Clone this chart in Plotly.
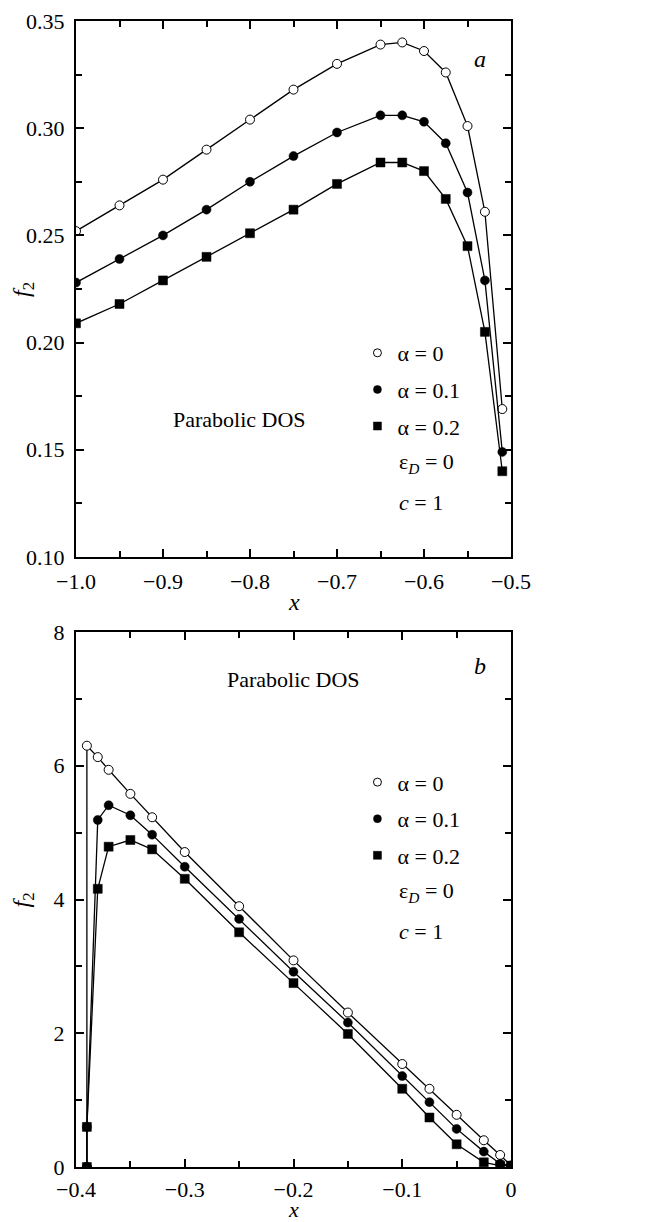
import plotly.graph_objects as go
from plotly.subplots import make_subplots

# ---- Panel a data ----
xa = [-1.0, -0.95, -0.9, -0.85, -0.8, -0.75, -0.7, -0.65, -0.625, -0.6, -0.575, -0.55, -0.53, -0.51]
fa_0 = [0.252, 0.264, 0.276, 0.290, 0.304, 0.318, 0.330, 0.339, 0.340, 0.336, 0.326, 0.301, 0.261, 0.169]
fa_1 = [0.228, 0.239, 0.250, 0.262, 0.275, 0.287, 0.298, 0.306, 0.306, 0.303, 0.293, 0.270, 0.229, 0.149]
fa_2 = [0.209, 0.218, 0.229, 0.240, 0.251, 0.262, 0.274, 0.284, 0.284, 0.280, 0.267, 0.245, 0.205, 0.140]

# ---- Panel b data ----
xb = [-0.39, -0.39, -0.38, -0.37, -0.35, -0.33, -0.30, -0.25, -0.20, -0.15, -0.10, -0.075, -0.05, -0.025, -0.01, 0.0]
fb_0 = [0.0, 6.30, 6.13, 5.94, 5.58, 5.23, 4.71, 3.90, 3.09, 2.31, 1.54, 1.17, 0.78, 0.40, 0.18, 0.02]
fb_1 = [0.0, 0.60, 5.19, 5.41, 5.26, 4.97, 4.49, 3.71, 2.92, 2.16, 1.36, 0.97, 0.57, 0.23, 0.05, 0.02]
fb_2 = [0.0, 0.60, 4.16, 4.79, 4.89, 4.75, 4.31, 3.51, 2.75, 1.99, 1.17, 0.74, 0.34, 0.07, 0.02, 0.02]

labels = ["α = 0", "α = 0.1", "α = 0.2"]
symbols = ["circle-open", "circle", "square"]

FONT = "Liberation Serif, Times New Roman, serif"

fig = make_subplots(rows=2, cols=1, vertical_spacing=0.05)

def marker(sym, size):
    if sym == "circle-open":
        return dict(symbol="circle", size=size, color="white", line=dict(color="black", width=1))
    return dict(symbol=sym, size=size, color="black", line=dict(color="black", width=0.5))

for row, xs, series in [(1, xa, [fa_0, fa_1, fa_2]), (2, xb, [fb_0, fb_1, fb_2])]:
    for i, ys in enumerate(series):
        fig.add_trace(go.Scatter(x=xs, y=ys, mode="lines+markers",
                                 line=dict(color="black", width=1.3),
                                 marker=marker(symbols[i], 9),
                                 showlegend=False), row=row, col=1)

# legend-only entries
for leg in ["legend", "legend2"]:
    for i, lab in enumerate(labels):
        fig.add_trace(go.Scatter(x=[None], y=[None], mode="markers", name=lab,
                                 marker=marker(symbols[i], 8),
                                 legend=leg, legendgroup=leg + str(i), showlegend=True))

axis_common = dict(showline=True, linecolor="black", linewidth=2, mirror="allticks",
                   ticks="inside", ticklen=8, tickwidth=1.5, tickcolor="black",
                   showgrid=False, zeroline=False,
                   tickfont=dict(family=FONT, size=22, color="black"),
                   minor=dict(ticks="inside", ticklen=6, tickwidth=1.5, tickcolor="black", showgrid=False))

fig.update_xaxes(**axis_common)
fig.update_yaxes(**axis_common)

fig.update_xaxes(row=1, col=1, range=[-1.0, -0.5], dtick=0.1, tick0=-1.0, tickformat=".1f",
                 minor=dict(dtick=0.05, tick0=-1.0), ticklabelstandoff=4,
                 domain=[0, 1])
fig.update_yaxes(row=1, col=1, range=[0.10, 0.35], dtick=0.05, tick0=0.10, tickformat=".2f",
                 minor=dict(dtick=0.025, tick0=0.10), ticklabelstandoff=5,
                 domain=[0.5323, 1.0])
fig.update_xaxes(row=2, col=1, range=[-0.4, 0.0], tickvals=[-0.4, -0.3, -0.2, -0.1, 0.0],
                 ticktext=["−0.4", "−0.3", "−0.2", "−0.1", "0"], ticklabelstandoff=2,
                 minor=dict(dtick=0.05, tick0=-0.4),
                 domain=[0, 1])
fig.update_yaxes(row=2, col=1, range=[0, 8], dtick=2, tick0=0,
                 minor=dict(dtick=1, tick0=0), ticklabelstandoff=5,
                 domain=[0.0, 0.4668])

leg_common = dict(font=dict(family=FONT, size=22, color="black"), bgcolor="rgba(0,0,0,0)",
                  traceorder="grouped", tracegroupgap=5, xanchor="left", yanchor="top",
                  itemclick=False)
fig.update_layout(
    legend=dict(x=0.647, y=0.7286, **leg_common),
    legend2=dict(x=0.647, y=0.354, **leg_common),
)

def ann(text, xr, yr, x, y, xanchor="center", size=22, angle=0):
    fig.add_annotation(text=text, xref=xr, yref=yr, x=x, y=y, showarrow=False,
                       xanchor=xanchor, yanchor="middle", textangle=angle,
                       font=dict(family=FONT, size=size, color="black"))

# axis titles
ann("<i>x</i>", "x domain", "paper", 0.5, 0.493, size=24)
ann("<i>x</i>", "x2 domain", "paper", 0.5, -0.0367, size=22)
ann("<i>f</i><sub>2</sub>", "paper", "y domain", -0.122, 0.5, size=24, angle=-90)
ann("<i>f</i><sub>2</sub>", "paper", "y2 domain", -0.122, 0.5, size=24, angle=-90)

ann("Parabolic DOS", "x domain", "y domain", 0.377, 0.256)
ann("<i>a</i>", "x domain", "y domain", 0.929, 0.93, size=24)
ann("ε<sub><i>D</i></sub> = 0", "x domain", "y domain", 0.738, 0.175, xanchor="left")
ann("<i>c</i> = 1", "x domain", "y domain", 0.738, 0.101, xanchor="left")

ann("Parabolic DOS", "x2 domain", "y2 domain", 0.499, 0.912)
ann("<i>b</i>", "x2 domain", "y2 domain", 0.929, 0.937, size=24)
ann("ε<sub><i>D</i></sub> = 0", "x2 domain", "y2 domain", 0.738, 0.514, xanchor="left")
ann("<i>c</i> = 1", "x2 domain", "y2 domain", 0.738, 0.441, xanchor="left")

# page body has an 8px margin: size the figure so the plot lands where the reference has it
fig.update_layout(
    width=640, height=1214,
    margin=dict(l=68, r=137, t=13, b=55, autoexpand=False),
    plot_bgcolor="white", paper_bgcolor="white",
    font=dict(family=FONT, size=22, color="black"),
)

fig.write_html("out.html")
